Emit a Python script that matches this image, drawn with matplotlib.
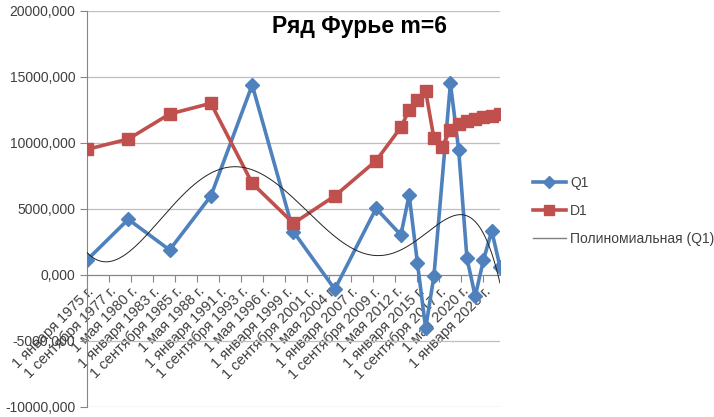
import numpy as np
import pandas as pd
import matplotlib
matplotlib.use('Agg')
import matplotlib.pyplot as plt
import matplotlib.dates as mdates
from matplotlib.lines import Line2D

plt.rcParams['font.family'] = ['Liberation Sans', 'DejaVu Sans']

Q1_COLOR = '#4F81BD'
D1_COLOR = '#C0504D'

# данные
q1_years = [1975, 1980, 1985, 1990, 1995, 2000, 2005, 2010, 2013, 2014,
            2015, 2016, 2017, 2019, 2020, 2021, 2022, 2023, 2024, 2025]
q1_values = [1100, 4180, 1860, 5950, 14360, 3240, -1120, 5010, 2990, 6020,
             890, -4080, -110, 14480, 9430, 1230, -1650, 1100, 3300, 590]
d1_years = [1975, 1980, 1985, 1990, 1995, 2000, 2005, 2010, 2013, 2014,
            2015, 2016, 2017, 2018, 2019, 2020, 2021, 2022, 2023, 2024, 2025]
d1_values = [9480, 10260, 12160, 12970, 6910, 3880, 5950, 8620, 11150, 12460,
             13220, 13900, 10320, 9680, 10950, 11400, 11650, 11760, 11910, 12010, 12160]

tick_dates = ['1975-01-01', '1977-09-01', '1980-05-01', '1983-01-01', '1985-09-01',
              '1988-05-01', '1991-01-01', '1993-09-01', '1996-05-01', '1999-01-01',
              '2001-09-01', '2004-05-01', '2007-01-01', '2009-09-01', '2012-05-01',
              '2015-01-01', '2017-09-01', '2020-05-01', '2023-01-01']
tick_labels = ['1 января 1975 г.', '1 сентября 1977 г.', '1 мая 1980 г.',
               '1 января 1983 г.', '1 сентября 1985 г.', '1 мая 1988 г.',
               '1 января 1991 г.', '1 сентября 1993 г.', '1 мая 1996 г.',
               '1 января 1999 г.', '1 сентября 2001 г.', '1 мая 2004 г.',
               '1 января 2007 г.', '1 сентября 2009 г.', '1 мая 2012 г.',
               '1 января 2015 г.', '1 сентября 2017 г.', '1 мая 2020 г.',
               '1 января 2023 г.']

q1_x = mdates.date2num(pd.to_datetime([f'{y}-01-01' for y in q1_years]))
d1_x = mdates.date2num(pd.to_datetime([f'{y}-01-01' for y in d1_years]))

# полиномиальный тренд 6-й степени по Q1
x0, xs = q1_x.mean(), q1_x.std()
coef = np.polyfit((q1_x - x0) / xs, q1_values, 6)
xx = np.linspace(q1_x.min(), q1_x.max(), 400)
trend = np.polyval(coef, (xx - x0) / xs)

fig = plt.figure(figsize=(7.14, 4.17), dpi=100)
ax = fig.add_axes([87/714, 1 - 406.5/417, (500 - 87)/714, (406.5 - 10.5)/417])

# ось X проходит через 0 (ставим до подписей, иначе тики сбрасываются)
for s in ['top', 'right']:
    ax.spines[s].set_visible(False)
ax.spines['bottom'].set_position(('data', 0))
ax.spines['bottom'].set_color('#868686')
ax.spines['left'].set_color('#868686')

ax.plot(q1_x, q1_values, color=Q1_COLOR, lw=2.6, marker='D', ms=7.5, zorder=3)
ax.plot(d1_x, d1_values, color=D1_COLOR, lw=2.6, marker='s', ms=8.5, zorder=4)
ax.plot(xx, trend, color='#222222', lw=0.7, zorder=5)

ax.set_ylim(-10000, 20000)
ax.set_yticks(np.arange(-10000, 20001, 5000))
ax.yaxis.set_major_formatter(matplotlib.ticker.FuncFormatter(lambda v, p: f'{v:.3f}'.replace('.', ',')))
ax.set_xlim(mdates.date2num(pd.Timestamp('1975-01-01')), mdates.date2num(pd.Timestamp('2025-01-01')))
ax.set_xticks(mdates.date2num(pd.to_datetime(tick_dates)))
ax.set_xticklabels(tick_labels, rotation=45, ha='right', va='top', rotation_mode='anchor')

ax.grid(axis='y', color='#BFBFBF', lw=0.9)
ax.set_axisbelow(True)
ax.tick_params(axis='both', colors='#868686', labelcolor='#404040', labelsize=10, length=5)
ax.tick_params(axis='x', pad=2, labelsize=10.5)

fig.text(360/714, 1 - 27/417, 'Ряд Фурье m=6', fontsize=16.5, fontweight='bold',
         ha='center', va='center', color='black')

handles = [Line2D([], [], color=Q1_COLOR, lw=2.6, marker='D', ms=6),
           Line2D([], [], color=D1_COLOR, lw=2.6, marker='s', ms=7),
           Line2D([], [], color='#808080', lw=1)]
fig.legend(handles, ['Q1', 'D1', 'Полиномиальная (Q1)'], loc='center left',
           bbox_to_anchor=(520/714, 1 - 211/417), frameon=False, fontsize=10,
           handlelength=2.4, handletextpad=0.3, labelspacing=1.0, labelcolor='#404040')

fig.savefig('out.png', dpi=100)
